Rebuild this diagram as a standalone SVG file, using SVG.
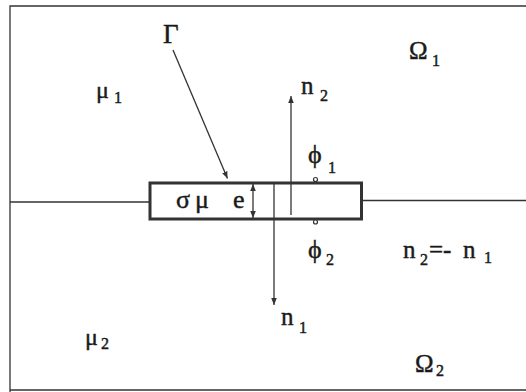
<svg xmlns="http://www.w3.org/2000/svg" width="526" height="392" viewBox="0 0 526 392">
<style>
.t{font-family:"Liberation Serif","Times New Roman",serif;fill:#1a1a1a;stroke:#1a1a1a;stroke-width:0.45}
.s{font-size:16px}
.ln{stroke:#333;stroke-width:1.3;fill:none}
</style>
<defs>
<marker id="ah" viewBox="0 0 10 10" refX="10" refY="5" markerWidth="7" markerHeight="7" markerUnits="userSpaceOnUse" orient="auto-start-reverse">
<path d="M0,1 L10,5 L0,9 z" fill="#333"/>
</marker>
</defs>
<rect width="526" height="392" fill="#fff"/>
<g id="frame" class="ln">
<path d="M10,392 L10,6 L526,6"/>
<path d="M10,390 L526,390"/>
</g>
<g id="connectors">
<path class="ln" d="M10,202 L150,202"/>
<path class="ln" d="M362,200.5 L526,200.5"/>
<path class="ln" d="M173,50 L227.5,178.5" marker-end="url(#ah)"/>
<path class="ln" d="M274,183 L274,305" marker-end="url(#ah)"/>
<path class="ln" d="M291,215 L291,96" marker-end="url(#ah)"/>
<path class="ln" d="M253,184 L253,218" marker-start="url(#ah)" marker-end="url(#ah)"/>
</g>
<g id="gamma-box">
<rect x="150" y="183" width="211.5" height="36" fill="none" stroke="#333" stroke-width="3"/>
<text class="t" x="176" y="208" font-size="26">σ</text>
<text class="t" x="195" y="208" font-size="26">μ</text>
<text class="t" x="233" y="208" font-size="26">e</text>
</g>
<g id="points">
<circle cx="315.5" cy="179.5" r="2" fill="#fff" stroke="#333" stroke-width="1.2"/>
<circle cx="315.5" cy="222" r="2" fill="#fff" stroke="#333" stroke-width="1.2"/>
</g>
<g id="labels">
<text class="t" x="163" y="43" font-size="27">Γ</text>
<text class="t" x="409" y="59" font-size="25">Ω</text><text class="t s" x="432" y="66">1</text>
<text class="t" x="96" y="98" font-size="24">μ</text><text class="t s" x="114" y="103">1</text>
<text class="t" x="301" y="94" font-size="25">n</text><text class="t s" x="320" y="101">2</text>
<text class="t" x="308" y="163" font-size="26">ϕ</text><text class="t s" x="328" y="173">1</text>
<text class="t" x="308" y="258" font-size="26">ϕ</text><text class="t s" x="326" y="265">2</text>
<text class="t" x="403" y="258" font-size="25">n</text><text class="t s" x="420" y="265">2</text><text class="t" x="429" y="258" font-size="25">=-</text>
<text class="t" x="463" y="258" font-size="25">n</text><text class="t s" x="484" y="263">1</text>
<text class="t" x="281" y="325" font-size="25">n</text><text class="t s" x="299" y="333">1</text>
<text class="t" x="85" y="345" font-size="24">μ</text><text class="t s" x="101" y="349">2</text>
<text class="t" x="415" y="372" font-size="25">Ω</text><text class="t s" x="436" y="376">2</text>
</g>
</svg>
